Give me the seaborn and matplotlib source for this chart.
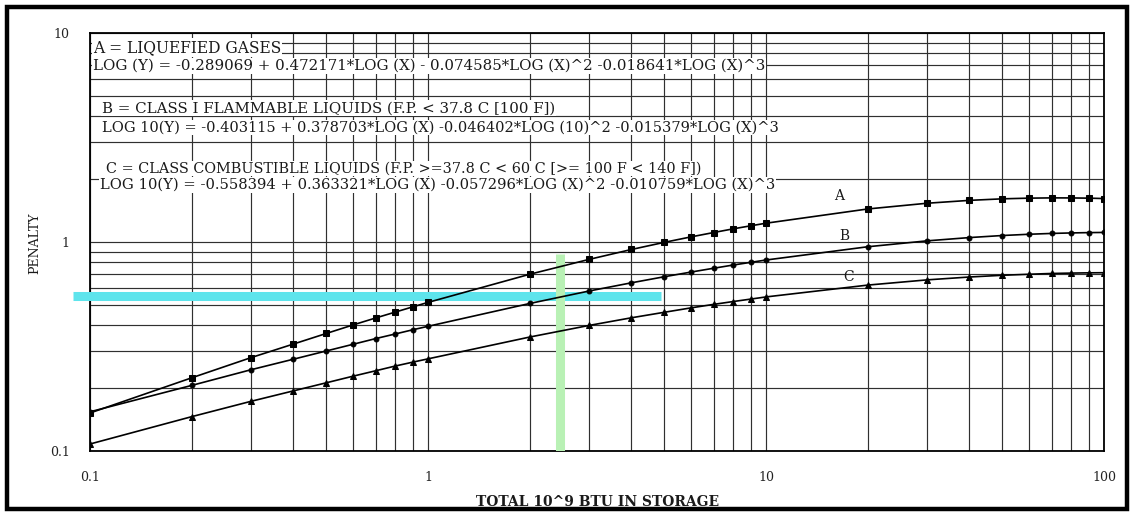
import matplotlib
matplotlib.use("Agg")
import matplotlib.pyplot as plt
from matplotlib.patches import Rectangle
from matplotlib.ticker import NullFormatter
import pandas as pd
import seaborn as sns

# Storage totals (10^9 BTU) at which each penalty curve is tabulated
x_btu = [0.1, 0.2, 0.3, 0.4, 0.5, 0.6, 0.7, 0.8, 0.9,
         1, 2, 3, 4, 5, 6, 7, 8, 9,
         10, 20, 30, 40, 50, 60, 70, 80, 90, 100]

# Penalty for liquefied gases (A)
penalty_a = [0.152, 0.224, 0.280, 0.325, 0.365, 0.401, 0.433, 0.462, 0.489,
             0.514, 0.701, 0.826, 0.921, 0.996, 1.058, 1.110, 1.156, 1.195,
             1.230, 1.439, 1.533, 1.582, 1.609, 1.621, 1.626, 1.625, 1.621, 1.614]

# Penalty for Class I flammable liquids (B)
penalty_b = [0.154, 0.206, 0.245, 0.275, 0.301, 0.324, 0.345, 0.363, 0.380,
             0.395, 0.508, 0.583, 0.638, 0.682, 0.718, 0.749, 0.776, 0.799,
             0.820, 0.949, 1.013, 1.050, 1.074, 1.089, 1.099, 1.105, 1.109, 1.111]

# Penalty for combustible liquids (C)
penalty_c = [0.108, 0.146, 0.173, 0.194, 0.212, 0.228, 0.242, 0.255, 0.266,
             0.276, 0.351, 0.399, 0.434, 0.461, 0.484, 0.503, 0.519, 0.533,
             0.546, 0.622, 0.659, 0.680, 0.693, 0.701, 0.707, 0.710, 0.712, 0.713]

curve_names = ["A", "B", "C"]
curve_markers = {"A": "s", "B": "o", "C": "^"}
curve_marker_sizes = {"A": 5.0, "B": 3.5, "C": 4.3}

# Reading guides: penalty level across, storage amount up
guide_penalty = 0.553
guide_penalty_span = [0.089, 4.9]
guide_btu = 2.46
guide_btu_span = [0.1, 0.875]

x_tick_values = [0.1, 1, 10, 100]
x_tick_labels = ["0.1", "1", "10", "100"]
y_tick_values = [0.1, 1, 10]
y_tick_labels = ["0.1", "1", "10"]

legend_lines = [
    "A = LIQUEFIED GASES",
    "LOG (Y) = -0.289069 + 0.472171*LOG (X) - 0.074585*LOG (X)^2 -0.018641*LOG (X)^3",
    "B = CLASS I FLAMMABLE LIQUIDS (F.P. < 37.8 C [100 F])",
    "LOG 10(Y) = -0.403115 + 0.378703*LOG (X) -0.046402*LOG (10)^2 -0.015379*LOG (X)^3",
    "C = CLASS COMBUSTIBLE LIQUIDS (F.P. >=37.8 C < 60 C [>= 100 F < 140 F])",
    "LOG 10(Y) = -0.558394 + 0.363321*LOG (X) -0.057296*LOG (X)^2 -0.010759*LOG (X)^3",
]
legend_pos = [(0.003, 0.965), (0.003, 0.922), (0.012, 0.820),
              (0.012, 0.774), (0.016, 0.676), (0.010, 0.636)]
legend_sizes = [11.2, 10.8, 10.8, 10.5, 10.4, 10.6]

curve_label_pos = {"A": (16.4, 1.66), "B": (17.1, 1.07), "C": (17.6, 0.68)}

df = pd.DataFrame({
    "btu": x_btu * 3,
    "penalty": penalty_a + penalty_b + penalty_c,
    "curve": [n for n in curve_names for _ in x_btu],
})

sns.set_theme(style="white")
plt.rcParams["font.family"] = ["DejaVu Serif"]

W, H = 1130, 512
fig = plt.figure(figsize=(W / 100, H / 100), dpi=100)
fig.patch.set_facecolor("white")
left, right, top, bottom = 90, 1104, 33, 451
ax = fig.add_axes([left / W, 1 - bottom / H, (right - left) / W, (bottom - top) / H])

for name in curve_names:
    sub = df[df["curve"] == name]
    sns.lineplot(data=sub, x="btu", y="penalty", ax=ax, color="black",
                 linewidth=1.2, marker=curve_markers[name],
                 markersize=curve_marker_sizes[name], markeredgecolor="black",
                 markerfacecolor="black", legend=False, zorder=4)

ax.set_xscale("log")
ax.set_yscale("log")
ax.set_xlim(0.1, 100)
ax.set_ylim(0.1, 10)

ax.grid(True, which="both", color="#303030", linewidth=0.85, zorder=0)
ax.set_axisbelow(True)

ax.plot(guide_penalty_span, [guide_penalty, guide_penalty], color="#5ee4ec",
        linewidth=6.5, solid_capstyle="butt", clip_on=False, zorder=3)
ax.plot([guide_btu, guide_btu], guide_btu_span, color="#b9f1b5",
        linewidth=6.5, solid_capstyle="butt", zorder=3)

ax.set_xticks(x_tick_values, labels=x_tick_labels)
ax.set_yticks(y_tick_values, labels=y_tick_labels)
ax.xaxis.set_minor_formatter(NullFormatter())
ax.yaxis.set_minor_formatter(NullFormatter())
ax.tick_params(which="major", direction="inout", length=9, width=1.3,
               colors="black", labelsize=9, pad=10)
ax.tick_params(which="minor", length=0)
for lab in ax.get_xticklabels() + ax.get_yticklabels():
    lab.set_color("#222222")

for spine in ax.spines.values():
    spine.set_color("black")
    spine.set_linewidth(1.3)

for text, (tx, ty), fs in zip(legend_lines, legend_pos, legend_sizes):
    ax.text(tx, ty, text, transform=ax.transAxes, fontsize=fs, ha="left",
            va="center", color="#1a1a1a", zorder=6,
            bbox=dict(facecolor="white", edgecolor="none", pad=0.6))

for name, (lx, ly) in curve_label_pos.items():
    ax.text(lx, ly, name, fontsize=10, ha="center", va="center",
            color="#1a1a1a", zorder=6)

ax.set_xlabel("TOTAL 10^9 BTU IN STORAGE", fontsize=10, fontweight="bold",
              color="#1a1a1a")
ax.xaxis.set_label_coords(0.501, -0.106)
ax.set_ylabel("PENALTY", fontsize=9, color="#1a1a1a")
ax.yaxis.set_label_coords(-0.048, 0.498)

fig.add_artist(Rectangle((7 / W, 3 / H), (W - 10) / W, (H - 10) / H,
                         transform=fig.transFigure, fill=False,
                         edgecolor="black", linewidth=3.2, zorder=10))

fig.savefig("out.png", dpi=100, facecolor="white")
